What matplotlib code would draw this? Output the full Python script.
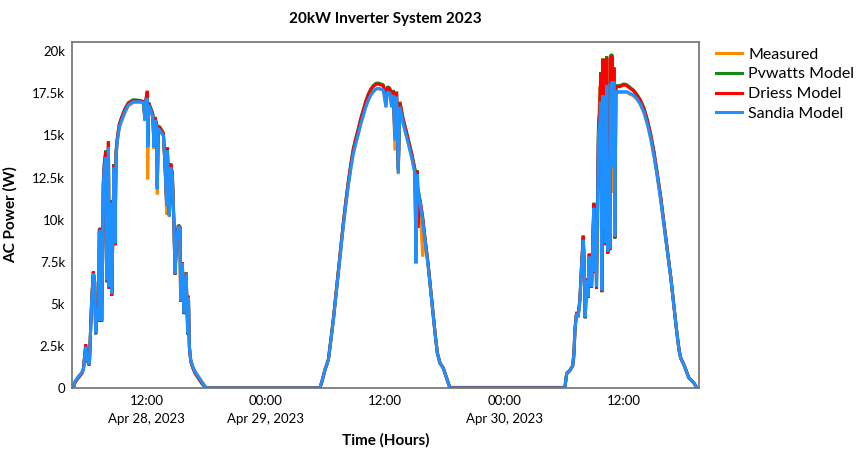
import pandas as pd
import matplotlib
matplotlib.use("Agg")
import matplotlib.pyplot as plt
import matplotlib.dates as mdates

plt.rcParams['font.family'] = ['Lato', 'DejaVu Sans']

# --- data (W) ---
day1_date = "2023-04-28"
day1_time = ["04:38", "04:48", "05:08", "05:29", "05:39", "05:53", "06:03", "06:15", "06:23", "06:29",
             "06:39", "06:47", "06:53", "07:03", "07:11", "07:15", "07:23", "07:29", "07:36", "07:39",
             "07:45", "07:54", "08:00", "08:10", "08:15", "08:24", "08:30", "08:36", "08:44", "08:50",
             "08:56", "09:04", "09:16", "09:30", "09:50", "10:10", "10:40", "11:21", "11:41", "11:51",
             "11:57", "12:05", "12:07", "12:13", "12:25", "12:38", "12:45", "12:51", "13:02", "13:05",
             "13:11", "13:21", "13:42", "13:52", "14:02", "14:06", "14:18", "14:26", "14:36", "14:46",
             "14:52", "15:02", "15:12", "15:22", "15:26", "15:36", "15:46", "15:59", "16:09", "16:13",
             "16:19", "16:27", "16:39", "16:53", "17:13", "17:33", "17:53", "18:04"]
day1_measured = [0, 380, 680, 920, 1120, 2400, 1700, 1420, 3600, 5150,
                 6750, 6350, 3300, 4750, 4050, 9250, 9300, 4050, 8350, 11950,
                 13050, 13600, 6450, 14250, 6050, 10950, 5650, 8750, 13050, 8650,
                 13750, 14650, 15450, 15850, 16350, 16750, 16950, 16980, 16900, 15850,
                 17050, 17150, 12400, 16750, 16450, 16050, 14200, 15850, 15450, 11500,
                 15350, 15250, 14950, 13050, 10300, 14050, 10150, 13050, 12500, 9500,
                 6850, 8200, 9550, 9450, 5250, 7350, 4500, 6750, 3300, 5350,
                 2450, 1700, 1300, 1000, 700, 400, 120, 0]
day1_pvwatts = [0, 320, 600, 850, 1140, 2580, 1600, 1340, 3690, 5240,
                6920, 6240, 3190, 4860, 3940, 9420, 9480, 3940, 8520, 12200,
                13350, 14100, 6280, 14650, 5880, 11150, 5480, 8950, 13300, 8480,
                14050, 14900, 15700, 16100, 16600, 16950, 17120, 17080, 17020, 15980,
                17180, 17600, 14380, 16950, 16650, 16300, 14420, 16100, 15650, 11920,
                15550, 15500, 15150, 13250, 10920, 14300, 10240, 13350, 12750, 9640,
                6740, 8950, 9680, 9580, 5140, 7480, 4380, 6880, 3180, 5480,
                2380, 1580, 1200, 880, 580, 280, 50, 0]
day1_driess = [0, 330, 620, 860, 1150, 2600, 1620, 1350, 3700, 5250,
               6900, 6250, 3200, 4850, 3950, 9400, 9450, 3950, 8500, 12150,
               13300, 14050, 6300, 14600, 5900, 11100, 5500, 8900, 13250, 8500,
               14000, 14850, 15650, 16050, 16550, 16900, 17080, 17050, 17000, 15950,
               17150, 17650, 14350, 16900, 16600, 16250, 14400, 16050, 15600, 11900,
               15500, 15450, 15100, 13200, 10900, 14250, 10250, 13300, 12700, 9650,
               6750, 8900, 9650, 9550, 5150, 7450, 4400, 6850, 3200, 5450,
               2400, 1600, 1220, 900, 600, 300, 60, 0]
day1_sandia = [0, 370, 670, 900, 1100, 2450, 1660, 1400, 3640, 5200,
               6800, 6300, 3260, 4800, 4000, 9300, 9350, 4000, 8400, 12000,
               13100, 13700, 6400, 14300, 6000, 11000, 5600, 8800, 13100, 8600,
               13800, 14700, 15500, 15900, 16400, 16800, 17000, 17000, 16950, 15900,
               17100, 17200, 14300, 16800, 16500, 16100, 14300, 15900, 15500, 11800,
               15400, 15300, 15000, 13100, 10800, 14100, 10200, 13100, 12550, 9600,
               6800, 8800, 9600, 9500, 5200, 7400, 4450, 6800, 3260, 5400,
               2450, 1660, 1270, 970, 670, 370, 100, 0]

day2_date = "2023-04-29"
day2_time = ["05:27", "05:42", "05:57", "06:18", "06:33", "06:48", "07:03", "07:18", "07:33", "07:48",
             "08:03", "08:18", "08:33", "08:48", "09:04", "09:19", "09:34", "09:49", "10:04", "10:19",
             "10:34", "10:49", "11:04", "11:19", "11:35", "11:50", "12:06", "12:14", "12:30", "12:40",
             "12:50", "13:00", "13:10", "13:20", "13:30", "13:50", "14:11", "14:41", "15:01", "15:07",
             "15:15", "15:18", "15:31", "15:47", "16:01", "16:21", "16:42", "17:02", "17:16", "17:32",
             "17:52", "18:12", "18:32"]
day2_measured = [0, 520, 1080, 1650, 2780, 3980, 5380, 6780, 8180, 9580,
                 10830, 11980, 12980, 13880, 14530, 15080, 15680, 16180, 16680, 17080,
                 17380, 17580, 17730, 17780, 17730, 17680, 16650, 17580, 17480, 16650,
                 17380, 14100, 17280, 12700, 16680, 15680, 14880, 13680, 12730, 7450,
                 12680, 11780, 10980, 7800, 8780, 7180, 5180, 3230, 2050, 1460,
                 1160, 570, 40]
day2_pvwatts = [0, 470, 1050, 1690, 2870, 4100, 5530, 6960, 8380, 9800,
                11080, 12250, 13280, 14190, 14860, 15420, 16030, 16540, 17050, 17460,
                17760, 17960, 18090, 18110, 18060, 18010, 17000, 17900, 17800, 17000,
                17700, 15000, 17600, 13000, 17000, 15980, 15170, 13950, 12990, 7520,
                12940, 11950, 11200, 10190, 8960, 7320, 5290, 3300, 2090, 1490,
                1190, 590, 0]
day2_driess = [0, 480, 1060, 1680, 2850, 4080, 5500, 6920, 8340, 9760,
               11030, 12200, 13220, 14130, 14800, 15360, 15970, 16480, 16990, 17400,
               17700, 17900, 18030, 18050, 18000, 17950, 16950, 17850, 17750, 16950,
               17650, 14950, 17550, 12950, 16950, 15930, 15120, 13900, 12940, 7500,
               12890, 9500, 11160, 10150, 8930, 7300, 5270, 3290, 2080, 1480,
               1180, 580, 0]
day2_sandia = [0, 500, 1070, 1660, 2800, 4000, 5400, 6800, 8200, 9600,
               10850, 12000, 13000, 13900, 14550, 15100, 15700, 16200, 16700, 17100,
               17400, 17600, 17750, 17800, 17750, 17700, 16700, 17600, 17500, 16700,
               17400, 14700, 17300, 12750, 16700, 15700, 14900, 13700, 12750, 7400,
               12700, 11800, 11000, 10000, 8800, 7200, 5200, 3250, 2060, 1470,
               1170, 580, 0]

day3_date = "2023-04-30"
day3_time = ["06:06", "06:17", "06:37", "06:53", "07:01", "07:07", "07:17", "07:26", "07:37", "07:47",
             "07:57", "08:03", "08:09", "08:17", "08:25", "08:33", "08:41", "08:47", "08:53", "09:01",
             "09:07", "09:13", "09:17", "09:23", "09:29", "09:37", "09:43", "09:49", "09:55", "10:01",
             "10:07", "10:13", "10:19", "10:25", "10:31", "10:37", "10:43", "10:53", "10:56", "11:02",
             "11:08", "11:14", "11:20", "11:38", "12:02", "12:20", "12:38", "13:00", "13:20", "13:40",
             "14:03", "14:24", "14:45", "15:04", "15:22", "15:43", "16:04", "16:25", "16:46", "17:04",
             "17:22", "17:36", "17:45", "18:05", "18:35", "19:05", "19:23"]
day3_measured = [40, 880, 1090, 1280, 1800, 3400, 4420, 4180, 5180, 7180,
                 8780, 7180, 4180, 6380, 5380, 7780, 7180, 5980, 8300, 10650,
                 6880, 9980, 5980, 10780, 15050, 17900, 17500, 5780, 19600, 9480,
                 17250, 8580, 17950, 8080, 11600, 8280, 17950, 18150, 11600, 18150,
                 8980, 17450, 17550, 17550, 17550, 17550, 17450, 17350, 17150, 16850,
                 16350, 15650, 14750, 13750, 12650, 11250, 9650, 8050, 6450, 4850,
                 3250, 2150, 1750, 1350, 580, 290, 0]
day3_pvwatts = [0, 840, 1040, 1330, 2120, 3520, 4520, 4270, 5300, 7380,
                9050, 7330, 4140, 6520, 5340, 7980, 7330, 5940, 8180, 11000,
                6840, 10300, 5880, 11150, 15560, 16560, 18750, 5690, 19550, 9620,
                19550, 8480, 19700, 7980, 13450, 8180, 19800, 19750, 13450, 19050,
                8880, 17850, 17960, 17960, 18060, 18010, 17860, 17700, 17450, 17150,
                16650, 15950, 15050, 14050, 12890, 11480, 9830, 8220, 6570, 4960,
                3310, 2260, 1810, 1390, 610, 310, 0]
day3_driess = [0, 850, 1050, 1320, 2100, 3500, 4500, 4250, 5280, 7350,
               9000, 7300, 4150, 6500, 5350, 7950, 7300, 5950, 8150, 10950,
               6850, 10250, 5900, 11100, 15500, 16500, 18700, 5700, 19500, 9600,
               19500, 8500, 19600, 8000, 13400, 8200, 19700, 19700, 13400, 19000,
               8900, 17800, 17900, 17900, 18000, 17950, 17800, 17650, 17400, 17100,
               16600, 15900, 15000, 14000, 12850, 11450, 9800, 8200, 6550, 4950,
               3300, 2250, 1800, 1380, 600, 300, 0]
day3_sandia = [0, 870, 1070, 1300, 2060, 3450, 4450, 4200, 5200, 7200,
               8800, 7200, 4200, 6400, 5400, 7800, 7200, 6000, 8000, 10700,
               6900, 10000, 6000, 10800, 15100, 15700, 17000, 5800, 17400, 9500,
               17300, 8600, 18000, 8100, 13100, 8300, 18000, 18200, 13100, 18200,
               9000, 17500, 17600, 17600, 17600, 17600, 17500, 17400, 17200, 16900,
               16400, 15700, 14800, 13800, 12700, 11300, 9700, 8100, 6500, 4900,
               3300, 2200, 1800, 1370, 600, 300, 0]

series_names = ["Measured", "Pvwatts Model", "Driess Model", "Sandia Model"]
series_colors = ["#ff8c00", "#138a13", "#ff0000", "#1e90ff"]

tick_times = ["2023-04-28 12:00", "2023-04-29 00:00", "2023-04-29 12:00",
              "2023-04-30 00:00", "2023-04-30 12:00"]
tick_labels = ["12:00\nApr 28, 2023", "00:00\nApr 29, 2023", "12:00",
               "00:00\nApr 30, 2023", "12:00"]
y_ticks = [0, 2500, 5000, 7500, 10000, 12500, 15000, 17500, 20000]
y_labels = ["0", "2.5k", "5k", "7.5k", "10k", "12.5k", "15k", "17.5k", "20k"]


def stamps(day, times):
    return [pd.Timestamp(f"{day} {t}") for t in times]


time = stamps(day1_date, day1_time) + stamps(day2_date, day2_time) + stamps(day3_date, day3_time)
values = [
    day1_measured + day2_measured + day3_measured,
    day1_pvwatts + day2_pvwatts + day3_pvwatts,
    day1_driess + day2_driess + day3_driess,
    day1_sandia + day2_sandia + day3_sandia,
]

fig = plt.figure(figsize=(8.58, 4.5), dpi=100)
ax = fig.add_axes([0.0839, 0.1378, 0.7308, 0.7689])

for name, color, vals in zip(series_names, series_colors, values):
    ax.plot(time, vals, color=color, lw=2.2, label=name, solid_joinstyle='bevel')

ax.set_xlim(pd.Timestamp("2023-04-28 04:30"), pd.Timestamp("2023-04-30 19:36"))
ax.set_ylim(0, 20550)
ax.set_xticks([mdates.date2num(pd.Timestamp(t)) for t in tick_times])
ax.set_xticklabels(tick_labels, fontsize=9.5, linespacing=1.6)
ax.set_yticks(y_ticks)
ax.set_yticklabels(y_labels, fontsize=9.5)
ax.tick_params(length=0, pad=5)

for side in ax.spines.values():
    side.set_color("#707070")
    side.set_linewidth(1.2)

ax.set_title("20kW Inverter System 2023", fontsize=11, fontweight="bold", pad=14)
ax.set_xlabel("Time (Hours)", fontsize=11, fontweight="bold", labelpad=6)
ax.set_ylabel("AC Power (W)", fontsize=11, fontweight="bold", labelpad=10)

ax.legend(loc="upper left", bbox_to_anchor=(1.012, 1.012), frameon=False, fontsize=11.5,
          handlelength=1.6, handletextpad=0.4, labelspacing=0.35, borderaxespad=0.2)

fig.savefig("out.png", dpi=100)
